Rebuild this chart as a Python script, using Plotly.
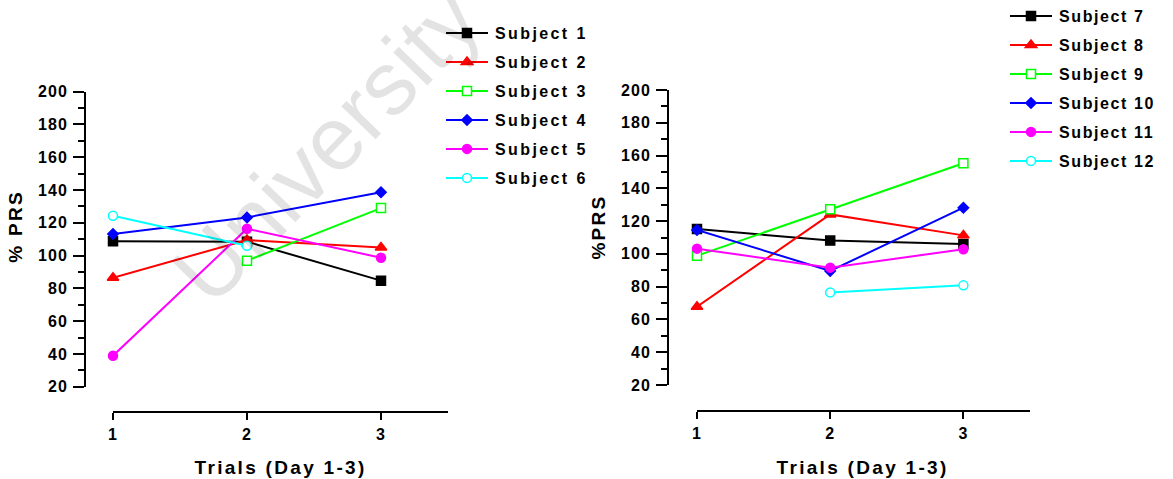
import plotly.graph_objects as go

W, H = 1173, 479

trials = [1, 2, 3]

# Panel A: subjects 1-6 (% PRS per trial day)
subj1 = [108.7, 108.5, 84.7]
subj2 = [86.5, 109.5, 105.0]
subj3 = [None, 96.9, 129.0]
subj4 = [113.2, 123.3, 138.6]
subj5 = [38.9, 116.4, 98.7]
subj6 = [124.3, 106.0, None]

# Panel B: subjects 7-12
subj7 = [115.2, 108.1, 106.0]
subj8 = [67.8, 124.1, 111.3]
subj9 = [98.9, 127.2, 155.3]
subj10 = [114.6, 89.6, 128.2]
subj11 = [103.2, 91.6, 102.8]
subj12 = [None, 76.5, 80.8]

names_a = ["Subject 1", "Subject 2", "Subject 3", "Subject 4", "Subject 5", "Subject 6"]
names_b = ["Subject 7", "Subject 8", "Subject 9", "Subject 10", "Subject 11", "Subject 12"]
series_a = [subj1, subj2, subj3, subj4, subj5, subj6]
series_b = [subj7, subj8, subj9, subj10, subj11, subj12]

y_ticks = [20, 40, 60, 80, 100, 120, 140, 160, 180, 200]
x_ticks = [1, 2, 3]

FONT = "Liberation Sans, Arial, Helvetica, sans-serif"

# colour, symbol, fill, size for each subject slot
styles = [
    ("#000000", "square", "#000000", 9),
    ("#ff0000", "triangle-up", "#ff0000", 10),
    ("#00ff00", "square", "#ffffff", 9),
    ("#0000ff", "diamond", "#0000ff", 8),
    ("#ff00ff", "circle", "#ff00ff", 9),
    ("#00ffff", "circle", "#ffffff", 9),
]


def px_x(p):
    return p / W


def px_y(p):
    return 1 - p / H


fig = go.Figure()

for panel, (names, series) in enumerate([(names_a, series_a), (names_b, series_b)]):
    xa = "x" if panel == 0 else "x2"
    ya = "y" if panel == 0 else "y2"
    lg = "legend" if panel == 0 else "legend2"
    for i, (name, vals) in enumerate(zip(names, series)):
        col, sym, fill, size = styles[i]
        fig.add_trace(go.Scatter(
            x=trials, y=vals, name=name, mode="lines+markers",
            xaxis=xa, yaxis=ya, legend=lg, legendgroup=name,
            line=dict(color=col, width=2),
            marker=dict(symbol=sym, size=size, color=fill,
                        line=dict(color=col, width=1.5)),
            cliponaxis=False, connectgaps=False,
        ))

tick_font = dict(family=FONT, size=16, color="#000000", weight="bold")


def yaxis_cfg(domain, pos):
    return dict(
        domain=domain, anchor="free", position=pos, range=[20, 200],
        tickmode="array", tickvals=y_ticks, ticks="outside", ticklen=11,
        tickwidth=2, tickcolor="#000000", showline=True, linewidth=2,
        linecolor="#000000", showgrid=False, zeroline=False,
        tickfont=tick_font, ticklabelstandoff=2, automargin=False,
        minor=dict(dtick=10, tick0=10, ticks="outside", ticklen=6,
                   tickwidth=2, tickcolor="#000000", showgrid=False),
    )


def xaxis_cfg(domain, pos):
    return dict(
        domain=domain, anchor="free", position=pos, range=[1, 3.5],
        tickmode="array", tickvals=x_ticks, ticks="outside", ticklen=7,
        tickwidth=2, tickcolor="#000000", showline=True, linewidth=2,
        linecolor="#000000", showgrid=False, zeroline=False,
        tickfont=tick_font, ticklabelstandoff=1, automargin=False,
    )


legend_font = dict(family=FONT, size=16, color="#000000", weight="bold")

fig.update_layout(
    width=W, height=H,
    margin=dict(l=0, r=0, t=0, b=0, autoexpand=False),
    paper_bgcolor="#ffffff", plot_bgcolor="#ffffff",
    xaxis=xaxis_cfg([px_x(113), px_x(448)], px_y(412)),
    yaxis=yaxis_cfg([px_y(386.7), px_y(91.7)], px_x(85)),
    xaxis2=xaxis_cfg([px_x(697), px_x(1030)], px_y(411)),
    yaxis2=yaxis_cfg([px_y(385), px_y(90)], px_x(668)),
    legend=dict(x=px_x(455), y=px_y(16), xanchor="left", yanchor="top",
                font=legend_font, tracegroupgap=5.2, bgcolor="rgba(0,0,0,0)",
                borderwidth=0),
    legend2=dict(x=px_x(1019), y=px_y(-1), xanchor="left", yanchor="top",
                 font=legend_font, tracegroupgap=5.2, bgcolor="rgba(0,0,0,0)",
                 borderwidth=0),
    showlegend=True,
)

title_font = dict(family=FONT, size=19, color="#000000", weight="bold")
annotations = [
    dict(text="% PRS", x=px_x(15), y=px_y(227), textangle=-90),
    dict(text="%PRS", x=px_x(598), y=px_y(227), textangle=-90),
    dict(text="Trials (Day 1-3)", x=px_x(280), y=px_y(467)),
    dict(text="Trials (Day 1-3)", x=px_x(862), y=px_y(467)),
]
for a in annotations:
    fig.add_annotation(xref="paper", yref="paper", xanchor="center",
                       yanchor="middle", showarrow=False, font=title_font, **a)

# faint diagonal watermark (annotation index 4)
fig.add_annotation(text="University", xref="paper", yref="paper",
                   x=px_x(326), y=px_y(146), xanchor="center", yanchor="middle",
                   showarrow=False, textangle=-46,
                   font=dict(family=FONT, size=90, color="rgba(0,0,0,0.11)"))

# letter spacing and longer legend swatches, via a stylesheet so redraws keep it
post = """
var css = document.createElement('style');
css.textContent = [
  '[class*="legend"] text { letter-spacing: 2.4px !important; }',
  'g.legend2 text { letter-spacing: 1.6px !important; }',
  '[class*="legend"] .scrollbox { clip-path: none !important; }',
  '[class*="legend"] .legendlines path { d: path("M-9,0h42") !important; }',
  '[class*="legend"] .legendpoints path.scatterpts { transform: translate(12px, 0px) !important; }',
  '.xaxislayer-above text, .yaxislayer-above text, g[class$="tick"] text { letter-spacing: 1px !important; }',
  '.annotation .annotation-text { letter-spacing: 2.3px; }',
  '.annotation[data-index="4"] .annotation-text { letter-spacing: 0px; }'
].join('\\n');
document.head.appendChild(css);
"""

fig.write_html("out.html", post_script=post)
